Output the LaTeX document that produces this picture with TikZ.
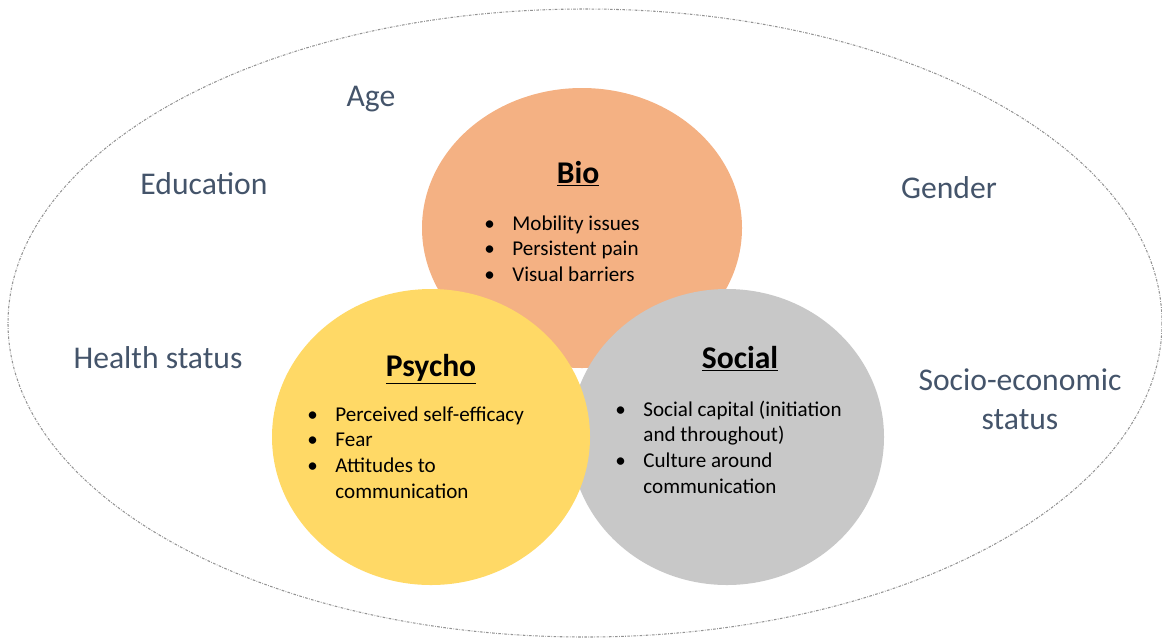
\documentclass[tikz,border=0pt]{standalone}
\usepackage{fontspec}
\setmainfont{Carlito}
\usetikzlibrary{positioning}

\definecolor{bioorange}{HTML}{F4B183}
\definecolor{psyyellow}{HTML}{FFD966}
\definecolor{socgray}{HTML}{C8C8C8}
\definecolor{factorblue}{HTML}{44546A}

\newcommand{\bul}{\textbullet}

\begin{document}
\begin{tikzpicture}[x=0.02cm, y=-0.02cm,
    factor/.style={anchor=base, text=factorblue, font=\fontsize{18}{22}\selectfont},
    heading/.style={anchor=base, font=\fontsize{18}{22}\selectfont\bfseries},
    items/.style={anchor=base west, inner sep=0pt, font=\fontsize{12}{14.7}\selectfont}]
    \useasboundingbox (0,0) rectangle (1162,637);

    % 外层椭圆
    \draw[gray!85, line width=0.6pt, dash pattern=on 1.5pt off 0.8pt on 0.4pt off 0.8pt]
        (585,323) ellipse [x radius=577, y radius=314];

    % 三个圆
    \fill[bioorange] (582,228) ellipse [x radius=160, y radius=140];
    \fill[socgray] (727,437) ellipse [x radius=157, y radius=148];
    \fill[psyyellow] (431,437) ellipse [x radius=159, y radius=148];

    % 标题
    \node[heading] (bio) at (578,183) {\underline{Bio}};
    \node[heading] (psycho) at (431,376) {\underline{Psycho}};
    \node[heading] (social) at (740,368) {\underline{Social}};

    % 各圆中的要点
    \node[items] (bioitems) at (484,230) {\begin{tabular}[t]{@{}l@{\hspace{10pt}}l@{}}
        \bul & Mobility issues\\
        \bul & Persistent pain\\
        \bul & Visual barriers
    \end{tabular}};
    \node[items] (psyitems) at (307,421) {\begin{tabular}[t]{@{}l@{\hspace{10pt}}l@{}}
        \bul & Perceived self-efficacy\\
        \bul & Fear\\
        \bul & Attitudes to\\
             & communication
    \end{tabular}};
    \node[items] (socitems) at (615,416) {\begin{tabular}[t]{@{}l@{\hspace{10pt}}l@{}}
        \bul & Social capital (initiation\\
             & and throughout)\\
        \bul & Culture around\\
             & communication
    \end{tabular}};

    % 外部因素
    \node[factor] (age) at (371,106) {Age};
    \node[factor] (edu) at (204,194) {Education};
    \node[factor] (gender) at (949,198) {Gender};
    \node[factor] (health) at (158,368) {Health status};
    \node[factor, anchor=center, align=center] (ses) at (1020,399) {Socio-economic\\status};
\end{tikzpicture}
\end{document}
